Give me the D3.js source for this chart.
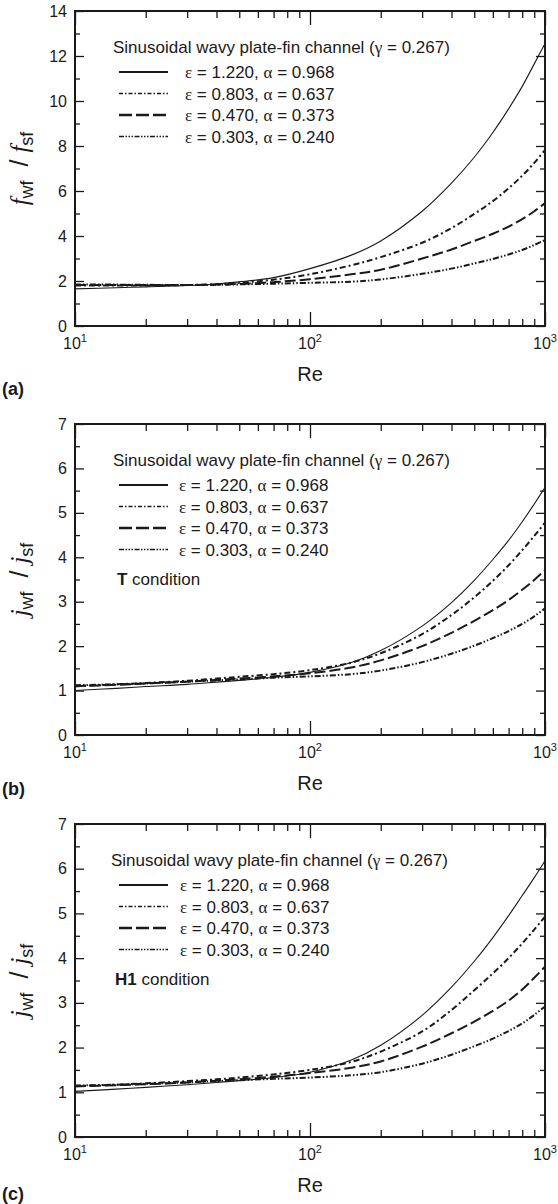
<!DOCTYPE html>
<html>
<head>
<meta charset="utf-8">
<script src="https://cdn.jsdelivr.net/npm/d3@7"></script>
<style>
  body { margin: 0; background: #fff; }
  svg text { font-family: "Liberation Sans", Arial, sans-serif; fill: #1a1a1a; }
</style>
</head>
<body>
<svg id="chart" width="558" height="1204"></svg>
<script>
// Reynolds numbers at which the ratios are sampled
const reynolds = [10, 15, 20, 30, 40, 50, 70, 100, 150, 200, 300, 400, 500, 600, 700, 800, 900, 1000];

// Geometry of each wavy channel (epsilon, alpha)
const epsilons = ["1.220", "0.803", "0.470", "0.303"];
const alphas   = ["0.968", "0.637", "0.373", "0.240"];
const gammaText = "0.267";

// (a) friction factor ratio f_wf / f_sf
const fRatio1 = [1.65, 1.70, 1.74, 1.80, 1.87, 1.96, 2.15, 2.55, 3.15, 3.78, 5.10, 6.35, 7.50, 8.60, 9.65, 10.65, 11.65, 12.55];
const fRatio2 = [1.80, 1.80, 1.80, 1.82, 1.86, 1.92, 2.06, 2.30, 2.70, 3.06, 3.70, 4.35, 4.98, 5.55, 6.12, 6.68, 7.25, 7.82];
const fRatio3 = [1.82, 1.82, 1.82, 1.82, 1.84, 1.87, 1.95, 2.08, 2.30, 2.50, 3.00, 3.40, 3.78, 4.10, 4.42, 4.75, 5.10, 5.46];
const fRatio4 = [1.85, 1.84, 1.83, 1.82, 1.83, 1.85, 1.88, 1.92, 1.97, 2.07, 2.32, 2.55, 2.78, 2.98, 3.18, 3.38, 3.60, 3.82];

// (b) Colburn factor ratio j_wf / j_sf, T condition
const jRatioT1 = [1.00, 1.05, 1.09, 1.14, 1.19, 1.23, 1.30, 1.41, 1.63, 1.90, 2.45, 2.98, 3.48, 3.95, 4.38, 4.80, 5.20, 5.57];
const jRatioT2 = [1.10, 1.14, 1.17, 1.22, 1.27, 1.31, 1.37, 1.46, 1.63, 1.84, 2.27, 2.70, 3.10, 3.47, 3.82, 4.16, 4.48, 4.78];
const jRatioT3 = [1.10, 1.13, 1.16, 1.20, 1.24, 1.27, 1.32, 1.39, 1.52, 1.68, 2.00, 2.30, 2.57, 2.81, 3.04, 3.27, 3.49, 3.71];
const jRatioT4 = [1.12, 1.14, 1.16, 1.20, 1.23, 1.25, 1.29, 1.32, 1.37, 1.45, 1.64, 1.83, 2.01, 2.18, 2.34, 2.50, 2.67, 2.85];

// (c) Colburn factor ratio j_wf / j_sf, H1 condition
const jRatioH1 = [1.02, 1.07, 1.11, 1.17, 1.22, 1.26, 1.33, 1.45, 1.72, 2.05, 2.72, 3.35, 3.93, 4.46, 4.95, 5.40, 5.80, 6.18];
const jRatioH2 = [1.14, 1.17, 1.20, 1.25, 1.29, 1.33, 1.40, 1.50, 1.68, 1.91, 2.36, 2.84, 3.28, 3.66, 4.00, 4.33, 4.64, 4.93];
const jRatioH3 = [1.13, 1.16, 1.18, 1.22, 1.26, 1.29, 1.35, 1.43, 1.55, 1.69, 2.02, 2.32, 2.58, 2.82, 3.05, 3.30, 3.56, 3.81];
const jRatioH4 = [1.15, 1.17, 1.19, 1.22, 1.25, 1.27, 1.30, 1.33, 1.38, 1.45, 1.64, 1.84, 2.03, 2.20, 2.37, 2.54, 2.73, 2.92];

// Axis ticks
const xMajorTicks = [10, 100, 1000];
const xMinorTicks = [20, 30, 40, 50, 60, 70, 80, 90, 200, 300, 400, 500, 600, 700, 800, 900];
const fTicks = [0, 2, 4, 6, 8, 10, 12, 14];
const fMinorTicks = [1, 3, 5, 7, 9, 11, 13];
const jTicks = [0, 1, 2, 3, 4, 5, 6, 7];
const jMinorTicks = [0.5, 1.5, 2.5, 3.5, 4.5, 5.5, 6.5];

// Line styles of the four channels
const strokeStyles = [
  { width: 1.1, dash: null,               legendWidth: 2.0, legendDash: null },
  { width: 2.0, dash: "6,3,2,3",          legendWidth: 1.6, legendDash: "4,2,1.5,2" },
  { width: 2.0, dash: "11,4",             legendWidth: 2.4, legendDash: "13,4" },
  { width: 2.0, dash: "6,2,1.5,2,1.5,2",  legendWidth: 1.6, legendDash: "5,1.5,1.5,1.5,1.5,1.5,1.5,1.5" }
];

const serif = "'Liberation Serif', 'Times New Roman', serif";
const svg = d3.select("#chart");
const left = 75, right = 545;

const panels = [
  { top: 11,  bottom: 326,  yMax: 14, ticks: fTicks, minor: fMinorTicks,
    series: [fRatio1, fRatio2, fRatio3, fRatio4], sym: "f", cond: null,
    titleX: 113, sampleX: 119, entryX: 185, tag: "(a)", tagY: 395 },
  { top: 424, bottom: 735,  yMax: 7,  ticks: jTicks, minor: jMinorTicks,
    series: [jRatioT1, jRatioT2, jRatioT3, jRatioT4], sym: "j", cond: "T",
    titleX: 113, sampleX: 119, entryX: 179, tag: "(b)", tagY: 795 },
  { top: 824, bottom: 1137, yMax: 7,  ticks: jTicks, minor: jMinorTicks,
    series: [jRatioH1, jRatioH2, jRatioH3, jRatioH4], sym: "j", cond: "H1",
    titleX: 111, sampleX: 119, entryX: 180, tag: "(c)", tagY: 1200 }
];

panels.forEach((p, pi) => {
  const g = svg.append("g");
  const x = d3.scaleLog().domain([10, 1000]).range([left, right]);
  const y = d3.scaleLinear().domain([0, p.yMax]).range([p.bottom, p.top]);

  // clip for curves
  const clipId = "clip" + pi;
  g.append("clipPath").attr("id", clipId).append("rect")
    .attr("x", left).attr("y", p.top).attr("width", right - left).attr("height", p.bottom - p.top);

  // ticks on all four sides, pointing inward
  const tickGroup = (axis, tx, ty) => {
    const a = g.append("g").attr("transform", `translate(${tx},${ty})`).call(axis);
    a.select(".domain").remove();
    a.selectAll("line").attr("stroke", "#1a1a1a").attr("stroke-width", 1.3);
    return a;
  };
  tickGroup(d3.axisBottom(x).tickValues(xMinorTicks).tickSize(-7).tickFormat(""), 0, p.bottom);
  tickGroup(d3.axisBottom(x).tickValues(xMajorTicks).tickSize(-14).tickFormat(""), 0, p.bottom);
  tickGroup(d3.axisTop(x).tickValues(xMinorTicks).tickSize(-7).tickFormat(""), 0, p.top);
  tickGroup(d3.axisTop(x).tickValues(xMajorTicks).tickSize(-14).tickFormat(""), 0, p.top);
  const yAxis = tickGroup(d3.axisLeft(y).tickValues(p.ticks).tickSize(-9).tickPadding(8).tickFormat(d3.format("d")), left, 0);
  yAxis.selectAll("text").attr("font-size", 16).attr("fill", "#1a1a1a")
    .attr("font-family", "'Liberation Sans', Arial, sans-serif");
  tickGroup(d3.axisLeft(y).tickValues(p.minor).tickSize(-5).tickFormat(""), left, 0);
  tickGroup(d3.axisRight(y).tickValues(p.ticks).tickSize(-9).tickFormat(""), right, 0);
  tickGroup(d3.axisRight(y).tickValues(p.minor).tickSize(-5).tickFormat(""), right, 0);

  // frame
  g.append("rect").attr("x", left).attr("y", p.top)
    .attr("width", right - left).attr("height", p.bottom - p.top)
    .attr("fill", "none").attr("stroke", "#1a1a1a").attr("stroke-width", 2);

  // decade labels 10^n
  xMajorTicks.forEach(v => {
    const t = g.append("text").attr("x", x(v)).attr("y", p.bottom + 23)
      .attr("text-anchor", "middle").attr("font-size", 16);
    t.append("tspan").text("10");
    t.append("tspan").attr("font-size", 11).attr("dy", -7).text(String(Math.round(Math.log10(v))));
  });

  // x title
  g.append("text").attr("x", (left + right) / 2).attr("y", p.bottom + 55)
    .attr("text-anchor", "middle").attr("font-size", 20).text("Re");

  // y title: sym_wf / sym_sf
  const yt = g.append("text")
    .attr("transform", `translate(28,${(p.top + p.bottom) / 2}) rotate(-90)`)
    .attr("text-anchor", "middle");
  yt.append("tspan").attr("font-family", serif).attr("font-style", "italic").attr("font-size", 25).text(p.sym);
  yt.append("tspan").attr("font-size", 18).attr("dy", 5).text("wf");
  yt.append("tspan").attr("font-size", 25).attr("dy", -5).text("\u00a0\u00a0/\u00a0");
  yt.append("tspan").attr("font-family", serif).attr("font-style", "italic").attr("font-size", 25).text(p.sym);
  yt.append("tspan").attr("font-size", 18).attr("dy", 5).text("sf");

  // curves
  const line = d3.line()
    .x((d, i) => x(reynolds[i]))
    .y(d => y(d))
    .curve(d3.curveCatmullRom.alpha(0.5));
  p.series.forEach((s, si) => {
    const st = strokeStyles[si];
    g.append("path").attr("clip-path", `url(#${clipId})`)
      .attr("d", line(s)).attr("fill", "none")
      .attr("stroke", "#1a1a1a").attr("stroke-width", st.width)
      .attr("stroke-dasharray", st.dash);
  });

  // legend
  const lt = g.append("text").attr("x", p.titleX).attr("y", p.top + 42).attr("font-size", 17);
  lt.append("tspan").text("Sinusoidal wavy plate-fin channel (");
  lt.append("tspan").attr("font-family", serif).text("\u03b3");
  lt.append("tspan").text(" = " + gammaText + ")");

  const rowOffsets = [67, 88.5, 110, 131.5];
  epsilons.forEach((e, i) => {
    const ry = p.top + rowOffsets[i];
    const st = strokeStyles[i];
    g.append("line").attr("x1", p.sampleX).attr("x2", p.sampleX + 49)
      .attr("y1", ry - 6).attr("y2", ry - 6)
      .attr("stroke", "#1a1a1a").attr("stroke-width", st.legendWidth)
      .attr("stroke-dasharray", st.legendDash);
    const t = g.append("text").attr("x", p.entryX).attr("y", ry).attr("font-size", 17);
    t.append("tspan").attr("font-family", serif).text("\u03b5");
    t.append("tspan").text(" = " + e + ", ");
    t.append("tspan").attr("font-family", serif).text("\u03b1");
    t.append("tspan").text(" = " + alphas[i]);
  });

  if (p.cond) {
    const ct = g.append("text").attr("x", p.titleX + 4).attr("y", p.top + 161).attr("font-size", 17);
    ct.append("tspan").attr("font-weight", "bold").text(p.cond);
    ct.append("tspan").text(" condition");
  }

  // panel tag
  g.append("text").attr("x", 2).attr("y", p.tagY).attr("font-size", 18)
    .attr("font-weight", "bold").text(p.tag);
});
</script>
</body>
</html>
